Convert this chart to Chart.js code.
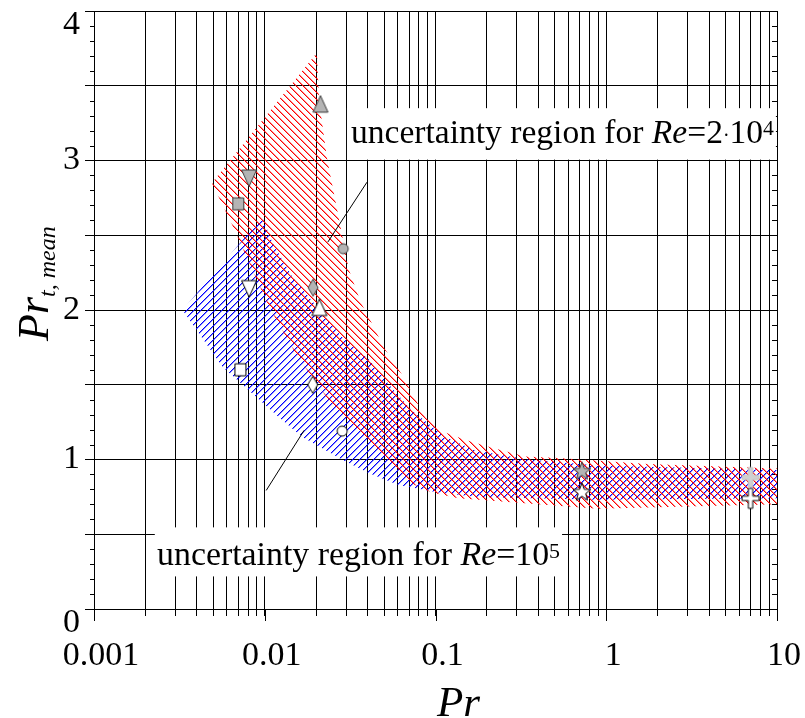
<!DOCTYPE html>
<html>
<head>
<meta charset="utf-8">
<title>Turbulent Prandtl number vs Pr</title>
<script src="https://cdn.jsdelivr.net/npm/chart.js@4.4.1/dist/chart.umd.min.js"></script>
<style>
  html, body { margin: 0; padding: 0; background: #fff; }
  canvas { display: block; }
</style>
</head>
<body>
<canvas id="chart" width="805" height="718"></canvas>
<script>
// axis ticks
const X_TICK_VALUES = [0.001, 0.01, 0.1, 1, 10];
const X_TICK_LABELS = ["0.001", "0.01", "0.1", "1", "10"];
const Y_TICK_LABELS = ["0", "1", "2", "3", "4"];

// uncertainty band, Re = 2·10^4 (outline, left vertex first, clockwise)
const BAND_RE2E4_PR  = [0.0049, 0.0202, 0.0208, 0.0231, 0.0311, 0.0365, 0.0424, 0.0498, 0.0634, 0.0875,
                        0.114, 0.150, 0.212, 0.335, 0.521, 1.75, 10, 10, 0.89, 0.233,
                        0.136, 0.0948, 0.0724, 0.0511, 0.0261, 0.0155, 0.0106, 0.0065];
const BAND_RE2E4_PRT = [2.85, 3.72, 3.40, 3.02, 2.27, 2.05, 1.91, 1.75, 1.57, 1.28,
                        1.18, 1.13, 1.08, 1.02, 1.01, 0.97, 0.94, 0.70, 0.67, 0.72,
                        0.74, 0.78, 0.84, 1.00, 1.33, 1.69, 2.02, 2.56];

// uncertainty band, Re = 10^5
const BAND_RE1E5_PR  = [0.0033, 0.00966, 0.0111, 0.0145, 0.0283, 0.0406, 0.0553, 0.0724, 0.114, 0.171,
                        0.348, 0.89, 10, 10, 0.89, 0.178, 0.104, 0.0608, 0.0406, 0.0283,
                        0.0166, 0.0122, 0.0093, 0.00565];
const BAND_RE1E5_PRT = [2.00, 2.62, 2.45, 2.22, 1.82, 1.67, 1.48, 1.33, 1.15, 1.06,
                        1.00, 0.96, 0.93, 0.74, 0.73, 0.75, 0.78, 0.83, 0.91, 1.00,
                        1.15, 1.28, 1.40, 1.62];

// measured points, one symbol per fluid
const SYMBOLS   = ["triangle", "triangleDown", "square", "circle", "diamond", "star", "plus"];
const PR_RE2E4  = [0.0212, 0.0081, 0.0070, 0.0288, 0.0192, 0.72, 7.0];
const PRT_RE2E4 = [3.37, 2.89, 2.71, 2.41, 2.15, 0.92, 0.88];
const PR_RE1E5  = [0.0209, 0.0081, 0.0072, 0.0284, 0.0191, 0.72, 7.0];
const PRT_RE1E5 = [2.01, 2.15, 1.60, 1.19, 1.50, 0.78, 0.74];

// leader lines from the notes to the bands
const LEADER_HI_PR  = [0.0397, 0.0234];
const LEADER_HI_PRT = [2.855, 2.454];
const LEADER_LO_PR  = [0.0170, 0.0102];
const LEADER_LO_PRT = [1.195, 0.793];

const SERIF = '"Liberation Serif", "Times New Roman", serif';

const pts = (xs, ys) => xs.map((x, i) => ({ x, y: ys[i] }));

// pixel hatch: one hard diagonal per 7px tile, with a faint neighbour for weight
function hatch(rgb, dir) {
  const s = 7;
  const c = document.createElement("canvas");
  c.width = c.height = s;
  const g = c.getContext("2d");
  for (let i = 0; i < s; i++) {
    const px = dir > 0 ? s - 1 - i : i;
    g.fillStyle = `rgb(${rgb})`;
    g.fillRect(px, i, 1, 1);
    g.fillStyle = `rgba(${rgb},0.45)`;
    g.fillRect((px + 1) % s, i, 1, 1);
  }
  return g.createPattern(c, "repeat");
}

function markerImage(shape, fill, stroke) {
  const size = 26;
  const c = document.createElement("canvas");
  c.width = c.height = size;
  const g = c.getContext("2d");
  g.translate(size / 2, size / 2);
  g.fillStyle = fill;
  g.strokeStyle = stroke;
  g.lineWidth = 1;
  g.beginPath();
  switch (shape) {
    case "triangle":
      g.moveTo(0, -9.5); g.lineTo(7.5, 7); g.lineTo(-7.5, 7); break;
    case "triangleDown":
      g.moveTo(0, 9.5); g.lineTo(7.5, -7); g.lineTo(-7.5, -7); break;
    case "square":
      g.rect(-5.5, -6, 11, 12); break;
    case "circle":
      g.arc(0, 0, 5, 0, Math.PI * 2); break;
    case "diamond":
      g.moveTo(0, -8.5); g.lineTo(5, 0); g.lineTo(0, 8.5); g.lineTo(-5, 0); break;
    case "star":
      for (let i = 0; i < 10; i++) {
        const r = i % 2 ? 3.9 : 9.5;
        const a = -Math.PI / 2 + i * Math.PI / 5;
        g.lineTo(r * Math.cos(a), r * Math.sin(a));
      }
      break;
    case "plus": {
      const a = 2.2, w = 8.5, h = 10;
      [[-a, -h], [a, -h], [a, -a], [w, -a], [w, a], [a, a], [a, h], [-a, h], [-a, a], [-w, a], [-w, -a], [-a, -a]]
        .forEach(([px, py]) => g.lineTo(px, py));
      break;
    }
  }
  g.closePath();
  g.fill();
  g.stroke();
  return c;
}

const grayMarkers = SYMBOLS.map(s => s === "plus"
  ? markerImage(s, "#d0d0d0", "#c2c2c2")
  : markerImage(s, "#b4b4b4", "#3a3a3a"));
const whiteMarkers = SYMBOLS.map(s => markerImage(s, "#ffffff", "#000000"));

// notes: rich text runs, anchor (left, baseline) and white box, all in data units
const NOTES = [
  {
    runs: [["uncertainty region for ", ""], ["Re", "italic"], ["=2", ""], ["·", "dot"], ["10", ""], ["4", "sup"]],
    at: [0.0320, 3.116],
    box: [0.0303, 9.85, 3.006, 3.35]
  },
  {
    runs: [["uncertainty region for ", ""], ["Re", "italic"], ["=10", ""], ["5", "sup"]],
    at: [0.00234, 0.291],
    box: [0.00227, 0.551, 0.218, 0.546]
  }
];

function runFont(style, size) {
  if (style === "sup") return `${Math.round(size * 0.64)}px ${SERIF}`;
  if (style === "dot") return `${Math.round(size * 0.6)}px ${SERIF}`;
  if (style === "sub") return `italic ${Math.round(size * 0.55)}px ${SERIF}`;
  return `${style} ${size}px ${SERIF}`;
}

function runsWidth(ctx, runs, size) {
  return runs.reduce((w, [text, style]) => {
    ctx.font = runFont(style, size);
    return w + ctx.measureText(text).width;
  }, 0);
}

function drawRuns(ctx, runs, x, y, size) {
  ctx.textAlign = "left";
  ctx.textBaseline = "alphabetic";
  for (const [text, style] of runs) {
    let dy = 0;
    if (style === "sup") dy = -size * 0.23;
    else if (style === "sub") dy = size * 0.16;
    else if (style === "dot") dy = -size * 0.02;
    ctx.font = runFont(style, size);
    ctx.fillText(text, x, y + dy);
    x += ctx.measureText(text).width;
  }
}

const frameTicks = {
  id: "frameTicks",
  beforeDatasetsDraw(chart) {
    const { ctx, chartArea: a, scales: { x, y } } = chart;
    ctx.save();
    ctx.strokeStyle = "#000";
    ctx.lineWidth = 1;
    ctx.beginPath();
    // minor ticks every 0.1, outside on the left, inside on the right
    for (let k = 1; k < 40; k++) {
      if (k % 5 === 0) continue;
      const py = Math.round(y.getPixelForValue(k / 10)) + 0.5;
      ctx.moveTo(a.left - 4, py); ctx.lineTo(a.left, py);
      ctx.moveTo(a.right - 5, py); ctx.lineTo(a.right, py);
    }
    // longer ticks at the decades
    for (const d of X_TICK_VALUES) {
      const px = Math.round(x.getPixelForValue(d)) + 0.5;
      ctx.moveTo(px, a.bottom); ctx.lineTo(px, a.bottom + 12);
    }
    ctx.stroke();
    ctx.restore();
  }
};

const notes = {
  id: "notes",
  afterDatasetsDraw(chart) {
    const { ctx, scales: { x, y } } = chart;
    const size = 34;
    ctx.save();
    for (const n of NOTES) {
      const [x0, x1, y0, y1] = n.box;
      const l = x.getPixelForValue(x0), r = x.getPixelForValue(x1);
      const t = y.getPixelForValue(y1), b = y.getPixelForValue(y0);
      ctx.fillStyle = "#fff";
      ctx.fillRect(l, t, r - l, b - t);
      ctx.fillStyle = "#000";
      // squeeze the line a little if it would run past the box
      const tx = x.getPixelForValue(n.at[0]), ty = y.getPixelForValue(n.at[1]);
      const k = Math.min(1, (r - tx - 2) / runsWidth(ctx, n.runs, size));
      ctx.save();
      ctx.translate(tx, ty);
      ctx.scale(k, 1);
      drawRuns(ctx, n.runs, 0, 0, size);
      ctx.restore();
    }
    ctx.restore();
  }
};

const axisTitles = {
  id: "axisTitles",
  afterDraw(chart) {
    const { ctx } = chart;
    ctx.save();
    ctx.fillStyle = "#000";
    drawRuns(ctx, [["Pr", "italic"]], 437, 716, 43);
    ctx.translate(48, 341);
    ctx.rotate(-Math.PI / 2);
    drawRuns(ctx, [["Pr", "italic"], ["t, mean", "sub"]], 0, 0, 44);
    ctx.restore();
  }
};

const tickFont = { family: SERIF, size: 34 };

new Chart(document.getElementById("chart"), {
  type: "line",
  data: {
    datasets: [
      {
        label: "Re=10^5 band",
        data: pts(BAND_RE1E5_PR, BAND_RE1E5_PRT),
        backgroundColor: hatch("0,0,255", 1),
        borderWidth: 0,
        pointRadius: 0,
        fill: "shape",
        order: 4
      },
      {
        label: "Re=2·10^4 band",
        data: pts(BAND_RE2E4_PR, BAND_RE2E4_PRT),
        backgroundColor: hatch("255,0,0", -1),
        borderWidth: 0,
        pointRadius: 0,
        fill: "shape",
        order: 3
      },
      {
        label: "leader hi",
        data: pts(LEADER_HI_PR, LEADER_HI_PRT),
        borderColor: "#000",
        borderWidth: 1,
        pointRadius: 0,
        fill: false,
        order: 2
      },
      {
        label: "leader lo",
        data: pts(LEADER_LO_PR, LEADER_LO_PRT),
        borderColor: "#000",
        borderWidth: 1,
        pointRadius: 0,
        fill: false,
        order: 2
      },
      {
        label: "Re=2·10^4",
        data: pts(PR_RE2E4, PRT_RE2E4),
        showLine: false,
        pointStyle: grayMarkers,
        pointRadius: 6,
        order: 1
      },
      {
        label: "Re=10^5",
        data: pts(PR_RE1E5, PRT_RE1E5),
        showLine: false,
        pointStyle: whiteMarkers,
        pointRadius: 6,
        order: 1
      }
    ]
  },
  options: {
    responsive: false,
    animation: false,
    events: [],
    layout: { autoPadding: false, padding: { top: 11, right: 28, bottom: 0, left: 0 } },
    plugins: { legend: { display: false }, tooltip: { enabled: false } },
    scales: {
      x: {
        type: "logarithmic",
        min: 0.001,
        max: 10,
        afterBuildTicks: s => {
          const ticks = [];
          X_TICK_VALUES.forEach((d, i) => {
            if (i === X_TICK_VALUES.length - 1) { ticks.push({ value: d }); return; }
            for (let m = 1; m < 10; m++) ticks.push({ value: +(d * m).toPrecision(3) });
          });
          s.ticks = ticks;
        },
        // fixed frame: labels may hang over the edges
        afterFit: s => { s.height = 109; s.paddingLeft = 0; s.paddingRight = 0; },
        border: { display: true, color: "#000", width: 1 },
        grid: { color: "#000", lineWidth: 1, tickLength: 7 },
        ticks: {
          autoSkip: false,
          maxRotation: 0,
          color: "#000",
          font: tickFont,
          padding: 20,
          labelOffset: 7,
          callback: v => {
            const i = X_TICK_VALUES.findIndex(d => Math.abs(d - v) < d * 1e-6);
            return i < 0 ? "" : X_TICK_LABELS[i];
          }
        }
      },
      y: {
        min: 0,
        max: 4,
        afterFit: s => { s.width = 94; s.paddingTop = 0; s.paddingBottom = 0; },
        border: { display: true, color: "#000", width: 1 },
        grid: { color: "#000", lineWidth: 1, tickLength: 9 },
        ticks: {
          stepSize: 0.5,
          color: "#000",
          font: { family: SERIF, size: 34, lineHeight: 0.82 },
          padding: 5,
          callback: v => {
            if (!Number.isInteger(v)) return "";
            const label = Y_TICK_LABELS[v];
            // end labels sit half a line inside the frame
            return v === 0 || v === 4 ? ["", label] : label;
          }
        }
      }
    }
  },
  plugins: [frameTicks, notes, axisTitles]
});
</script>
</body>
</html>
